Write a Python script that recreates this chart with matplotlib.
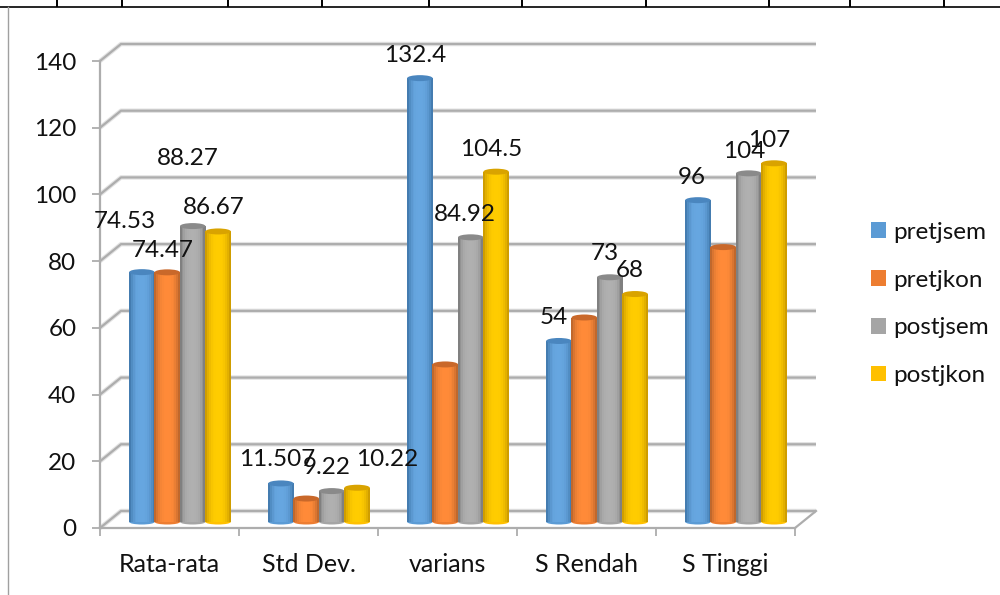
# 3d looking clustered cylinder chart
import numpy as np
import matplotlib.pyplot as plt
from matplotlib.patches import Ellipse, Patch
from matplotlib.colors import to_rgb

categories = ['Rata-rata', 'Std Dev.', 'varians', 'S Rendah', 'S Tinggi']
series_names = ['pretjsem', 'pretjkon', 'postjsem', 'postjkon']
pretjsem = [74.53, 11.507, 132.4, 54, 96]
pretjkon = [74.47, 7, 47, 61, 82]
postjsem = [88.27, 9.22, 84.92, 73, 104]
postjkon = [86.67, 10.22, 104.5, 68, 107]
yticks = [0, 20, 40, 60, 80, 100, 120, 140]
table_ticks = [57, 122, 228, 322, 429, 522, 646, 769, 850, 944]

# label text and where it sits in the picture (the labels were dragged around)
label_text = ['74.53', '74.47', '88.27', '86.67', '11.507', '9.22', '10.22',
              '132.4', '84.92', '104.5', '54', '73', '68', '96', '104', '107']
label_x = [125, 163, 188, 214, 277, 327, 387, 415, 465, 491, 554, 605, 630, 692, 744, 769]
label_y = [222, 250, 159, 208, 460, 468, 459, 56, 214, 149, 318, 254, 271, 177, 151, 140]

colors = ['#5B9BD5', '#ED7D31', '#A5A5A5', '#FFC000']
mid_colors = ['#66A6E0', '#FF8A38', '#B0B0B0', '#FFCC00']
edge_colors = ['#3E75A8', '#B5622A', '#787878', '#C79500']
top_colors = ['#4A86BF', '#C9682A', '#8A8A8A', '#D9A300']
GRID = '#ADADAD'
TEXT = '#111111'
FS = 17.5

plt.rcParams['font.family'] = ['Lato', 'DejaVu Sans']
plt.rcParams['font.size'] = FS

fig = plt.figure(figsize=(10, 5.95), dpi=100)
ax = fig.add_axes([100 / 1000, 1 - 528 / 595, 695 / 1000, 467 / 595])
ax.set_xlim(0, 5)
ax.set_ylim(0, 140)

# px -> data units
ux = 5 / 695
uy = 140 / 467
dx = 21 * ux
dy = 17 * uy

# walls and floor
for v in yticks:
    for lw, col in [(3.2, '#E2E2E2'), (1.6, GRID)]:
        ax.plot([0, dx, 5 + dx], [v, v + dy, v + dy], color=col, lw=lw,
                clip_on=False, zorder=1, solid_capstyle='butt')
ax.plot([5, 5 + dx], [0, dy], color=GRID, lw=1.6, clip_on=False, zorder=1)

for s in ['top', 'right']:
    ax.spines[s].set_visible(False)
for s in ['left', 'bottom']:
    ax.spines[s].set_color(GRID)
    ax.spines[s].set_linewidth(1.6)
    ax.spines[s].set_zorder(2)
ax.patch.set_visible(False)

ax.set_yticks(yticks)
ax.set_xticks(np.arange(6))
ax.set_xticklabels([])
ax.set_xticks(np.arange(5) + 0.5, labels=categories, minor=True)
ax.tick_params(axis='y', length=6, width=1.3, color=GRID, labelcolor=TEXT, labelsize=17.5, pad=11)
ax.tick_params(axis='x', which='major', length=6, width=1.3, color=GRID)
ax.tick_params(axis='x', which='minor', length=0, labelcolor=TEXT, labelsize=18, pad=18)

# cylinders, built from thin strips so they get the shading
all_series = [pretjsem, pretjkon, postjsem, postjkon]
bar_w = 25.4 * ux
group_shift = 10.5 * ux
base = 6 * uy
n_strips = 14
t = np.linspace(-1, 1, n_strips)
stretch = 1.005

for i, vals in enumerate(all_series):
    left_c = np.arange(5) + 0.5 + group_shift + (i - 1.5) * bar_w
    for j, v in enumerate(vals):
        z = 5 + i
        h = v * stretch
        for k in range(n_strips):
            w = 0.85 * abs(t[k]) ** 3
            c = (1 - w) * np.array(to_rgb(mid_colors[i])) + w * np.array(to_rgb(edge_colors[i]))
            sx = left_c[j] + t[k] * (bar_w / 2) * (1 - 1 / n_strips)
            ax.bar(sx, h, bar_w / n_strips * 1.15, bottom=base, color=c, lw=0, zorder=z)
        ax.add_patch(Ellipse((left_c[j], base), bar_w, 5 * uy, color=colors[i], lw=0, zorder=z - 0.5))
        ax.add_patch(Ellipse((left_c[j], base + h), bar_w, 6 * uy, color=top_colors[i], lw=0, zorder=z + 0.5))

for txt, x, y in zip(label_text, label_x, label_y):
    fig.text(x / 1000, 1 - y / 595, txt, ha='center', va='center', color=TEXT, zorder=20)

handles = [Patch(color=c, lw=0) for c in colors]
fig.legend(handles, series_names, loc='center left', bbox_to_anchor=(0.871, 1 - 304 / 595),
           frameon=False, handlelength=0.62, handleheight=0.62, handletextpad=0.3,
           labelspacing=1.1, labelcolor=TEXT, borderpad=0, borderaxespad=0)

# bits of the page around the chart
page = fig.add_axes([0, 0, 1, 1], zorder=-1)
page.set_xlim(0, 1000)
page.set_ylim(595, 0)
page.axis('off')
page.plot([0, 1000], [6.5, 6.5], color='black', lw=1.2)
page.vlines(table_ticks, 0, 6.5, color='black', lw=1.4)
page.plot([8, 8], [7, 595], color='#A0A0A0', lw=1.0)

plt.savefig('out.png', dpi=100)
